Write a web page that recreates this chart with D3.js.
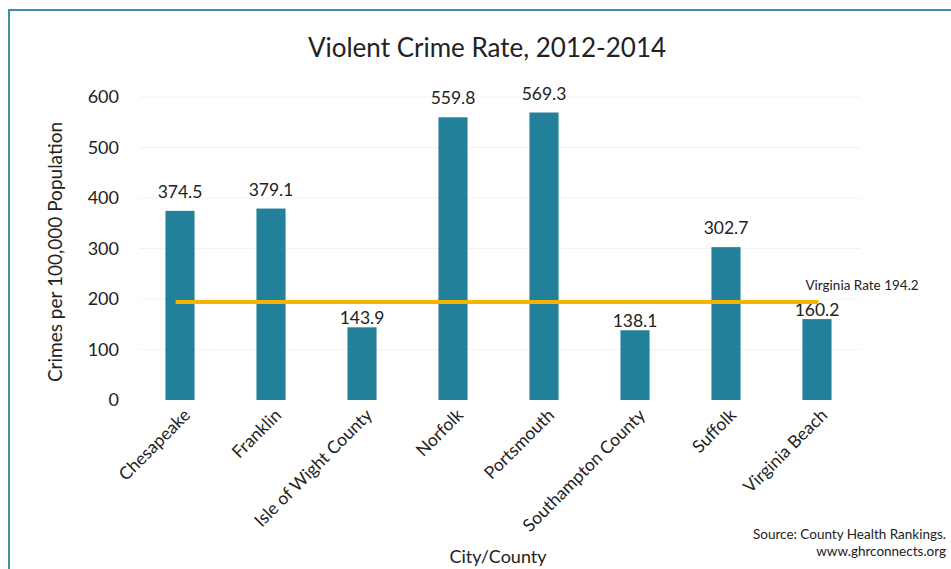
<!DOCTYPE html>
<html><head><meta charset="utf-8">
<script src="https://cdn.jsdelivr.net/npm/d3@7"></script>
<style>body{margin:0;background:#fff}svg{display:block}text{font-family:Lato,"Open Sans",sans-serif;fill:#222}</style>
</head><body><svg id="c" width="951" height="569"></svg>
<script>
const categories = ["Chesapeake","Franklin","Isle of Wight County","Norfolk","Portsmouth","Southampton County","Suffolk","Virginia Beach"];
const values = [374.5,379.1,143.9,559.8,569.3,138.1,302.7,160.2];
const yTicks = [0,100,200,300,400,500,600];
const stateRate = 194.2;
const stateLabel = "Virginia Rate 194.2";

const svg = d3.select("#c");
// frame
svg.append("path").attr("d","M9,569 V10 H951").attr("fill","none").attr("stroke","#3f8fa8").attr("stroke-width",2);

const x = d3.scaleBand().domain(categories).range([134.5,862.5]).paddingInner(0.68).paddingOuter(0.34);
const y = d3.scaleLinear().domain([0,600]).range([400,97]);

// faint gridlines
svg.append("g").selectAll("line").data(yTicks.filter(d=>d>0)).join("line")
  .attr("x1",140).attr("x2",860).attr("y1",d=>y(d)).attr("y2",d=>y(d))
  .attr("stroke","#f2f2f2").attr("stroke-width",1);

// y axis
const ya = svg.append("g").attr("transform","translate(119,0)")
  .call(d3.axisLeft(y).tickValues(yTicks).tickSize(0).tickPadding(0));
ya.select(".domain").remove();
ya.selectAll("text").attr("font-size",18).style("font-family","Lato,sans-serif").attr("fill","#222");

// bars
svg.append("g").selectAll("rect").data(values).join("rect")
  .attr("x",(d,i)=>x(categories[i])).attr("width",x.bandwidth())
  .attr("y",d=>y(d)).attr("height",d=>y(0)-y(d)).attr("fill","#23809a");

// labels (those under the state line sit closer to their bars)
svg.append("g").selectAll("text").data(values).join("text")
  .attr("x",(d,i)=>x(categories[i])+x.bandwidth()/2).attr("y",d=>y(d)-(d>stateRate?13:3))
  .attr("text-anchor","middle").attr("font-size",17.5).text(d=>d.toFixed(1));

// x axis labels
const xa = svg.append("g").attr("transform","translate(0,412)")
  .call(d3.axisBottom(x).tickSize(0).tickPadding(0));
xa.select(".domain").remove();
xa.selectAll("text").attr("font-size",17.5).style("font-family","Lato,sans-serif").attr("fill","#222")
  .attr("text-anchor","end").attr("dy","0.35em").attr("transform","translate(7,0) rotate(-45)");

// state rate line
const x0 = x(categories[0]) + x.bandwidth()*0.35, x1 = x(categories[categories.length-1]) + x.bandwidth()*0.55;
svg.append("line").attr("x1",x0).attr("x2",x1).attr("y1",y(stateRate)).attr("y2",y(stateRate))
  .attr("stroke","#f5b400").attr("stroke-width",4);
svg.append("text").attr("x",x1-13).attr("y",y(stateRate)-12).attr("font-size",13.5).text(stateLabel);

// title
svg.append("text").attr("x",487).attr("y",57).attr("text-anchor","middle").attr("font-size",26).text("Violent Crime Rate, 2012-2014");
// y title
svg.append("text").attr("transform","translate(62,252) rotate(-90)").attr("text-anchor","middle").attr("font-size",19).text("Crimes per 100,000 Population");
// x title
svg.append("text").attr("x",498).attr("y",563).attr("text-anchor","middle").attr("font-size",18).text("City/County");
// source
svg.append("text").attr("x",946).attr("y",539).attr("text-anchor","end").attr("font-size",13.5).text("Source: County Health Rankings.");
svg.append("text").attr("x",946).attr("y",556).attr("text-anchor","end").attr("font-size",13.5).text("www.ghrconnects.org");
</script></body></html>
